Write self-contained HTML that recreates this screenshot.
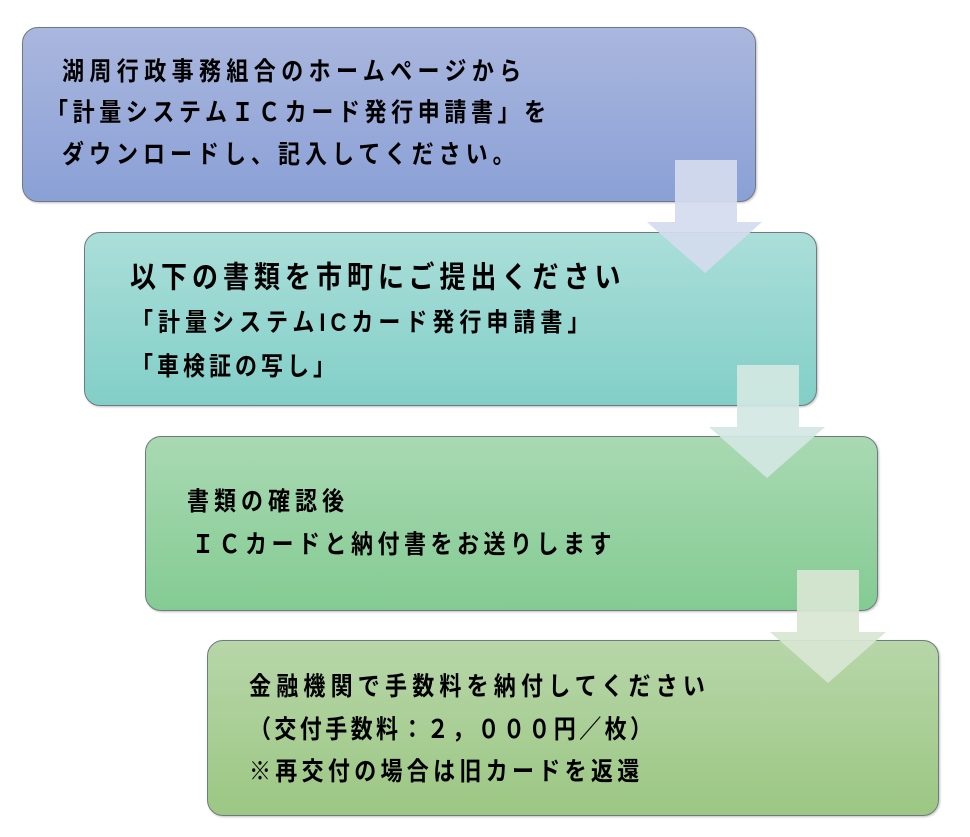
<!DOCTYPE html>
<html><head><meta charset="utf-8"><style>
body{margin:0;width:970px;height:837px;background:#fff;position:relative;overflow:hidden;font-family:"Liberation Sans","Noto Sans CJK JP",sans-serif;font-weight:bold;color:#000}
.b{position:absolute;border:1px solid #6f7a80;border-radius:16px;box-shadow:1px 1px 2px rgba(0,0,0,.25)}
.t{position:absolute;white-space:nowrap;font-size:22px;line-height:1;letter-spacing:4px;transform:scaleY(1.15);transform-origin:left center}
svg{position:absolute;left:0;top:0}
</style></head><body>
<div class="b" style="left:22px;top:27px;width:732px;height:173px;background:linear-gradient(#aab7de,#8aa0d6)"></div>
<div class="b" style="left:84px;top:232px;width:731px;height:172px;background:linear-gradient(#abded9,#82cfc8)"></div>
<div class="b" style="left:145px;top:436px;width:731px;height:173px;background:linear-gradient(#a9d9b2,#84cb93)"></div>
<div class="b" style="left:207px;top:640px;width:730px;height:174px;background:linear-gradient(#b7d6a9,#9cc783)"></div>

<div class="t" style="left:62px;top:61px;letter-spacing:5.4px">湖周行政事務組合のホームページから</div>
<div class="t" style="left:46px;top:102px;letter-spacing:4.6px">「計量システムＩＣカード発行申請書」を</div>
<div class="t" style="left:62px;top:144px;letter-spacing:5px">ダウンロードし、記入してください。</div>

<div class="t" style="left:130px;top:264px;font-size:26px;letter-spacing:5px">以下の書類を市町にご提出ください</div>
<div class="t" style="left:131px;top:312px;letter-spacing:5px">「計量システムICカード発行申請書」</div>
<div class="t" style="left:131px;top:356px;letter-spacing:4px">「車検証の写し」</div>

<div class="t" style="left:187px;top:491px;letter-spacing:5px">書類の確認後</div>
<div class="t" style="left:192px;top:534px;letter-spacing:4.5px">ＩＣカードと納付書をお送りします</div>

<div class="t" style="left:249px;top:676px;letter-spacing:5.2px">金融機関で手数料を納付してください</div>
<div class="t" style="left:249px;top:719px;letter-spacing:3.4px">（交付手数料：２，０００円／枚）</div>
<div class="t" style="left:249px;top:761px;letter-spacing:4.3px">※再交付の場合は旧カードを返還</div>

<svg width="970" height="837">
<polygon points="675,160 737,160 737,222 762,222 705,273 647,222 675,222" fill="#d4dbee" fill-opacity="0.92"/>
<polygon points="737,365 799,365 799,427 825,427 767,478 709,427 737,427" fill="#d2e7e2" fill-opacity="0.92"/>
<polygon points="797,570 859,570 859,632 886,632 828,683 770,632 797,632" fill="#d8e6d3" fill-opacity="0.92"/>
</svg>
</body></html>
